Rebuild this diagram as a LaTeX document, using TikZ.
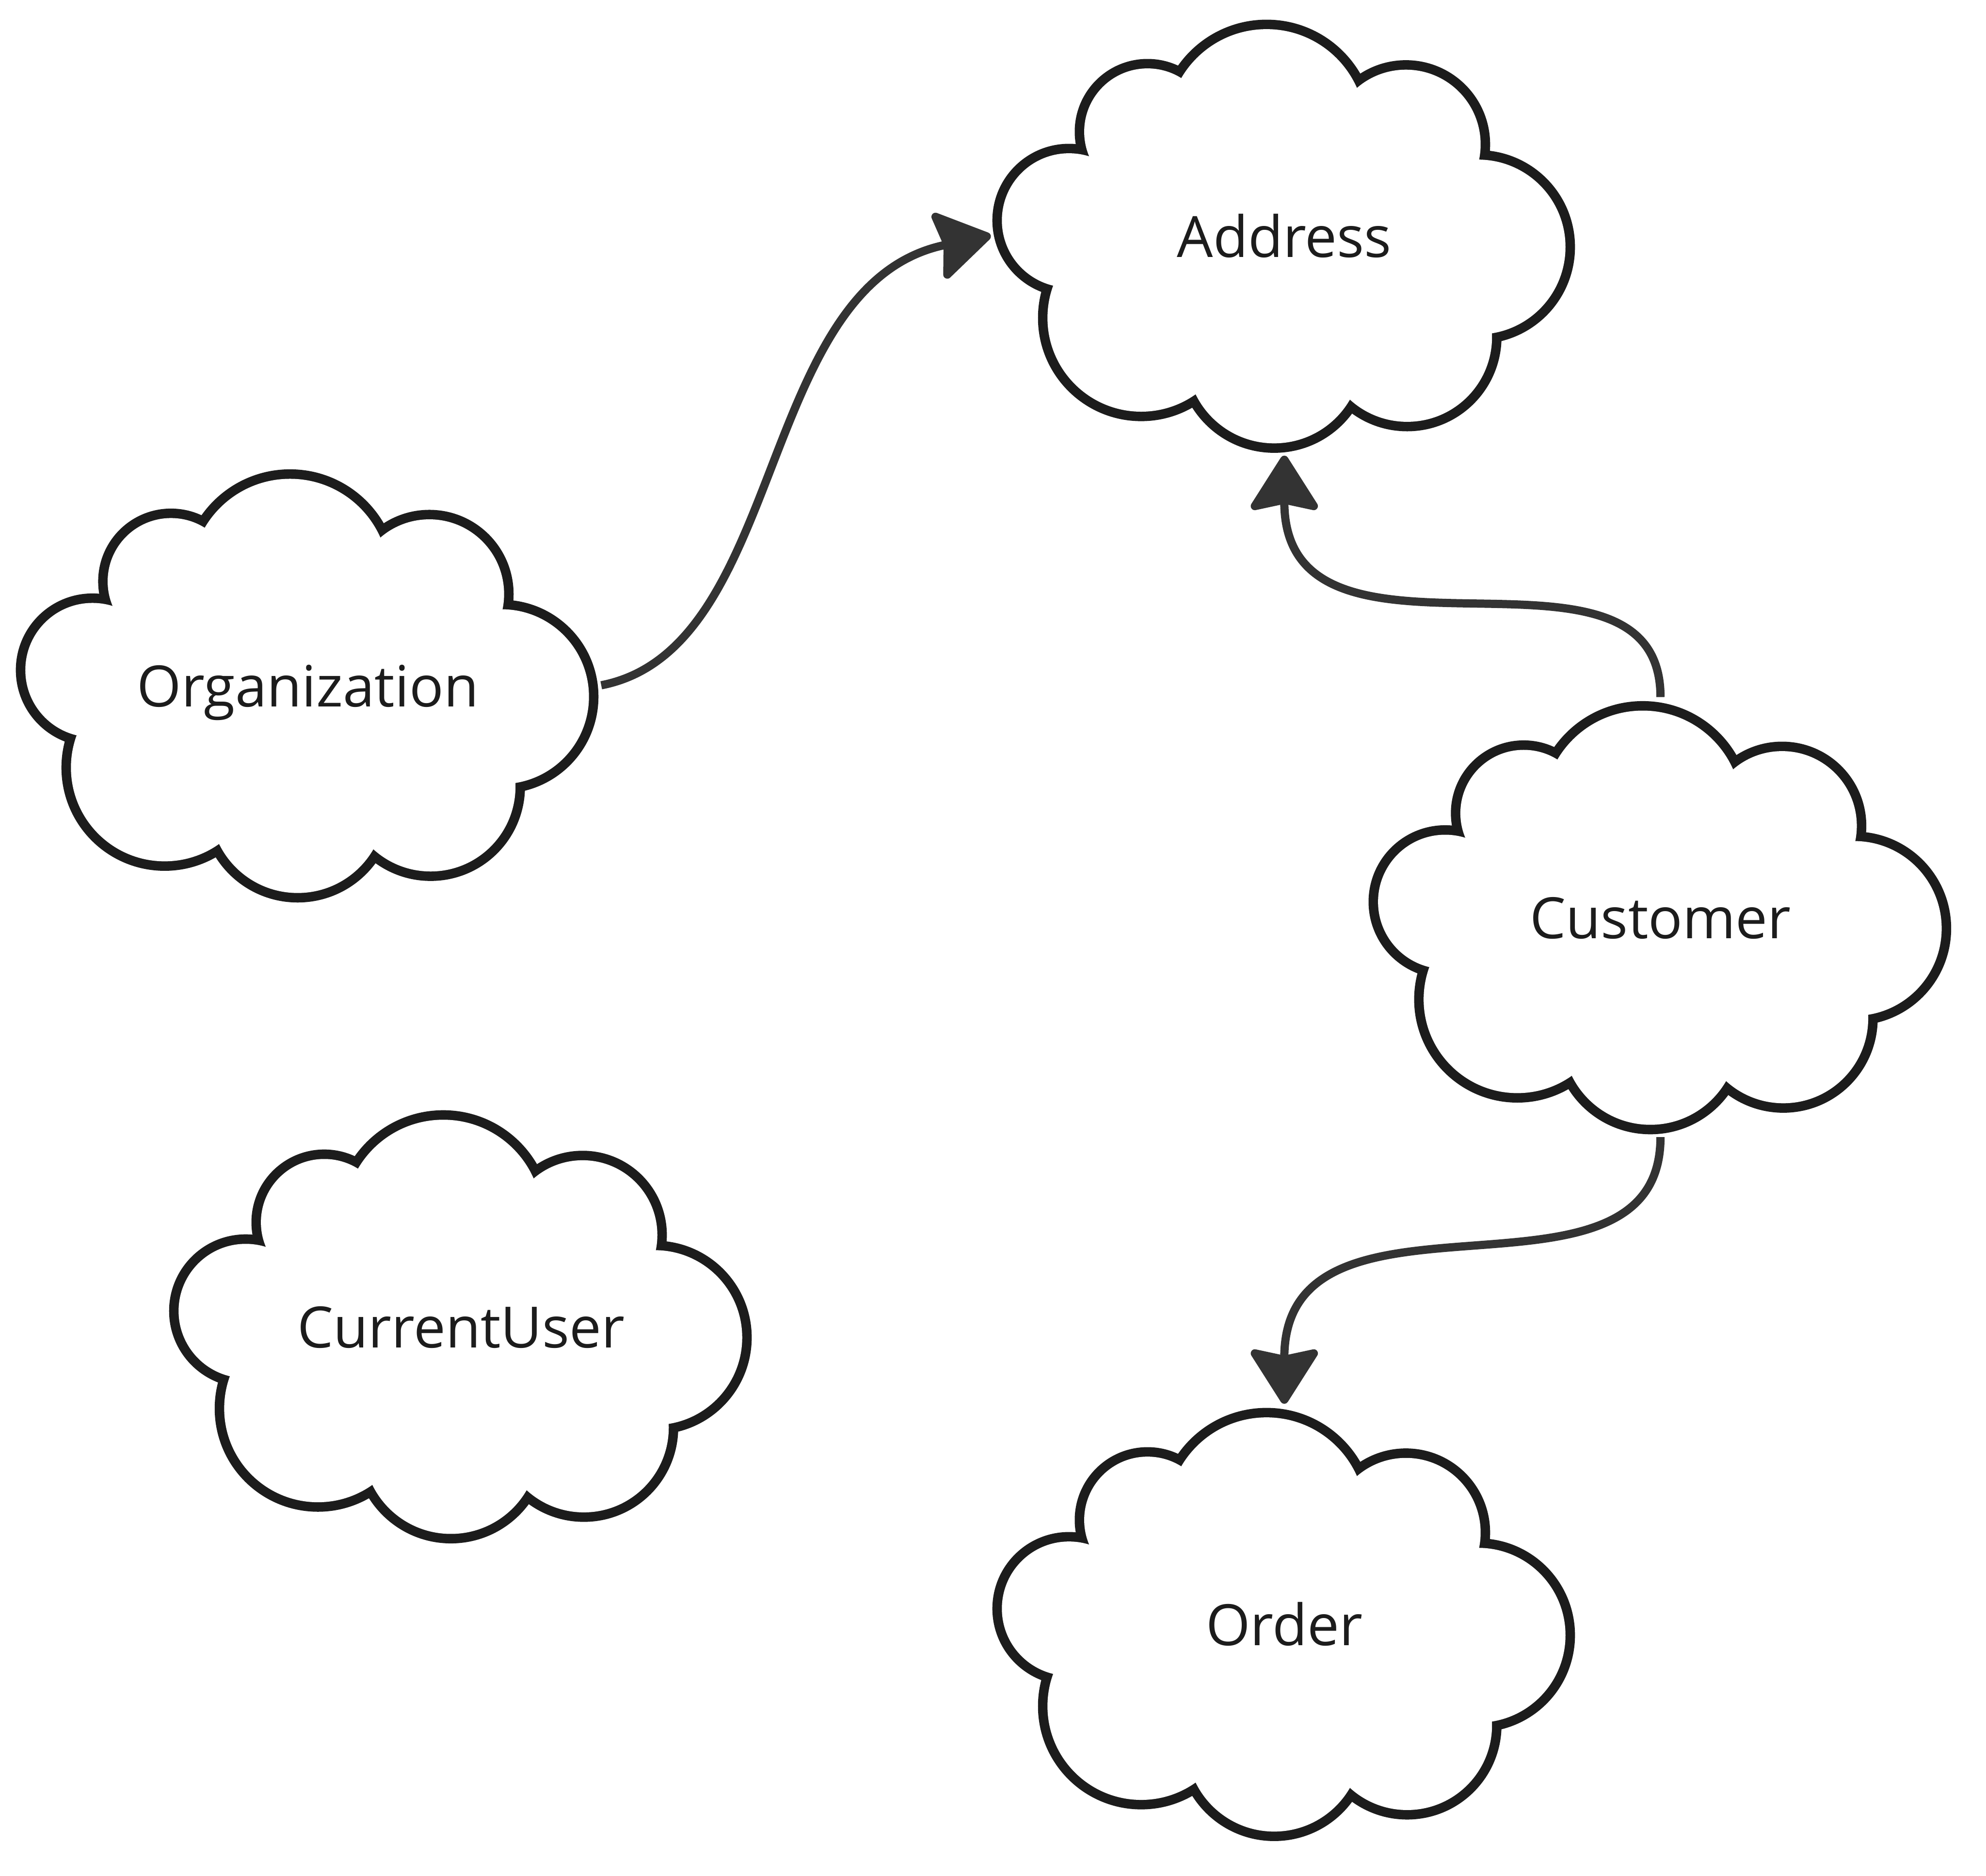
\documentclass[tikz,border=0pt]{standalone}
\usepackage{fontspec}
\setmainfont{Open Sans}
\usetikzlibrary{arrows.meta}

\definecolor{cloudink}{HTML}{1C1C1C}
\definecolor{linkink}{HTML}{333333}

% puffs of one cloud: centre x / centre y / radius
\newcommand{\cloudpuffs}{-108/82/50, -14/85/78, 96/72/59, 153/-9/69, 97/-80/67, -8/-95/69, -113/-65/74, -170/12/53}

\tikzset{
	puffline/.style={cloudink, line width=1.5mm},
	pics/cloudbody/.style={code={
		\foreach \cx/\cy/\r in \cloudpuffs
			\draw[puffline] (\cx,\cy) circle[radius=\r];
		\foreach \cx/\cy/\r in \cloudpuffs
			\fill[white] (\cx,\cy) circle[radius=\r];
		\fill[white] (0,0) ellipse[x radius=150, y radius=100];
	}},
	cloudtext/.style={minimum width=46.2mm, minimum height=34.6mm, inner sep=0pt, text height=9.7pt, text depth=0pt, text=cloudink, font=\fontsize{12.8}{15}\selectfont},
	relation/.style={linkink, line width=0.65mm, -{Stealth[length=4.7mm, width=5.9mm, inset=0.6mm, round]}},
}

\begin{document}
\begin{tikzpicture}[x=0.1mm, y=0.1mm]
		\useasboundingbox (0,0) rectangle (1568,-1481);

		\pic at (1014,-186) {cloudbody};
		\pic at (243,-541) {cloudbody};
		\pic at (1311,-724) {cloudbody};
		\pic at (364,-1047) {cloudbody};
		\pic at (1014,-1282) {cloudbody};

		\node[cloudtext] (address) at (1014,-186) {Address};
		\node[cloudtext] (organization) at (243,-541) {Organization};
		\node[cloudtext] (customer) at (1311,-724) {Customer};
		\node[cloudtext] (currentuser) at (364,-1047) {CurrentUser};
		\node[cloudtext] (order) at (1014,-1282) {Order};

		\draw[relation] (organization.east) .. controls +(147,28.5) and +(-186,-38) .. (address.west);
		\draw[relation] (customer.north) .. controls +(0,145) and +(0,-190) .. (address.south);
		\draw[relation] (customer.south) .. controls +(0,-150) and +(0,190) .. (order.north);

	\end{tikzpicture}
\end{document}
